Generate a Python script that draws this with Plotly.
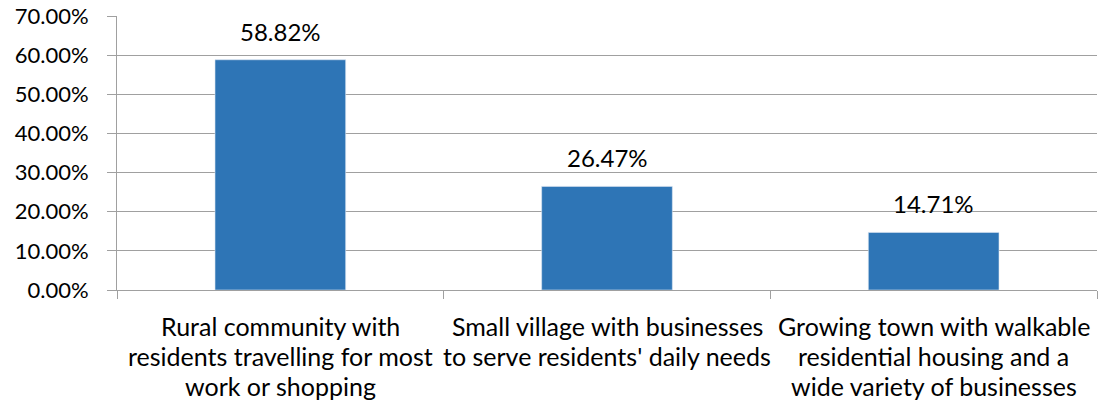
import plotly.graph_objects as go

# Survey: preferred type of community
categories = [
    "Rural community with<br>residents travelling for most<br>work or shopping",
    "Small village with businesses<br>to serve residents' daily needs",
    "Growing town with walkable<br>residential housing and a<br>wide variety of businesses",
]
shares = [0.5882, 0.2647, 0.1471]
y_ticks = [0, 0.1, 0.2, 0.3, 0.4, 0.5, 0.6, 0.7]

FONT = "Lato"
GRID = "#A0A0A0"
BAR = "#2E75B6"

fig = go.Figure(
    go.Bar(
        x=categories,
        y=shares,
        width=0.4,
        marker=dict(color=BAR, line=dict(color="#DCE6F2", width=0.6)),
        hoverinfo="skip",
    )
)

# value labels above each bar
for cat, v in zip(categories, shares):
    fig.add_annotation(
        x=cat, y=v, xref="x", yref="y",
        text=f"{v * 100:.2f}%",
        showarrow=False, yanchor="bottom", yshift=12,
        font=dict(family=FONT, size=24, color="#000000"),
    )

# category labels, one annotation per line for wider line spacing
for cat in categories:
    for j, line in enumerate(cat.split("<br>")):
        fig.add_annotation(
            x=cat, y=0, xref="x", yref="y",
            text=line, showarrow=False, yanchor="middle",
            yshift=-36 - 30 * j,
            font=dict(family=FONT, size=25, color="#000000"),
        )

fig.update_layout(
    width=1098, height=404,
    margin=dict(l=117, r=1, t=16, b=114),
    paper_bgcolor="white", plot_bgcolor="white",
    showlegend=False,
    font=dict(family=FONT, size=22, color="#000000"),
)

fig.update_xaxes(
    type="category",
    range=[-0.5, 2.5],
    showticklabels=False,
    tickson="boundaries", ticks="outside", ticklen=8,
    tickcolor=GRID, tickwidth=1,
    showline=True, linecolor=GRID, linewidth=1,
    showgrid=False, zeroline=False,
)

fig.update_yaxes(
    range=[0, 0.7],
    tickmode="array", tickvals=y_ticks,
    tickformat=".2%",
    ticks="outside", ticklen=9, tickcolor=GRID, tickwidth=1,
    ticklabelstandoff=14,
    tickfont=dict(family=FONT, size=22, color="#000000"),
    showline=True, linecolor=GRID, linewidth=1,
    showgrid=True, gridcolor=GRID, gridwidth=1,
    zeroline=False,
)

fig.write_html("out.html")
